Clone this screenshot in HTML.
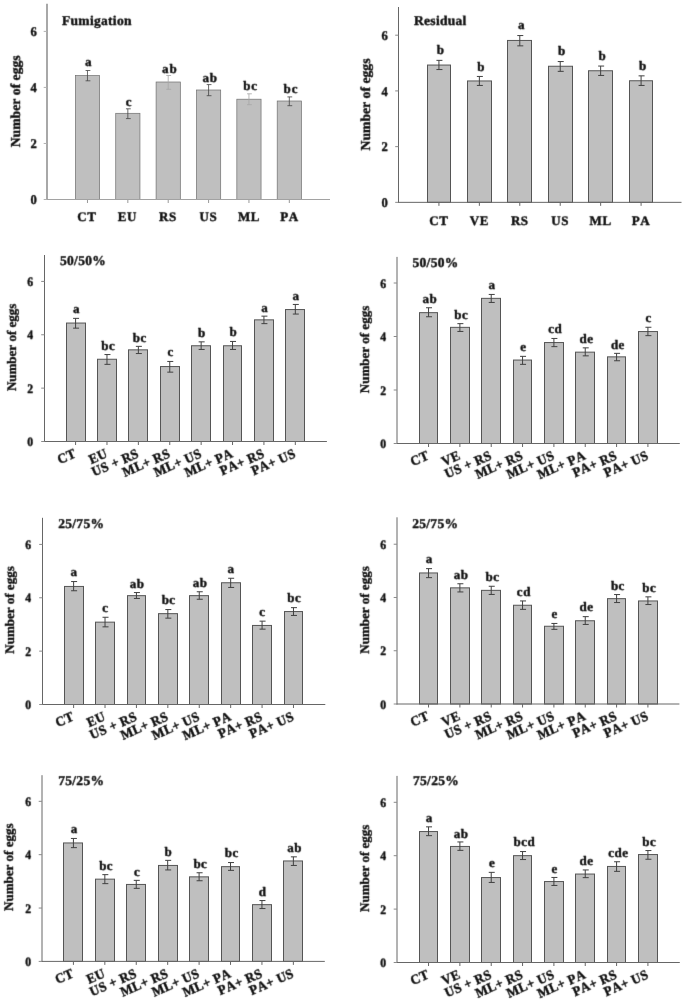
<!DOCTYPE html>
<html><head><meta charset="utf-8"><title>Number of eggs</title>
<style>
html,body{margin:0;padding:0;background:#fff;}
svg{display:block;}

text{font-family:"Liberation Serif",serif;font-weight:bold;fill:#0a0a0a;stroke:#0a0a0a;stroke-width:0.35px;font-kerning:none;text-rendering:geometricPrecision;stroke-linejoin:round;}
.t{font-size:12.9px;}
.ti{font-size:13.5px;letter-spacing:0.3px;}
.l{font-size:13px;letter-spacing:0.5px;}
.l1{letter-spacing:0.9px;}
.x{font-size:13px;letter-spacing:0.4px;}
.x6{font-size:13px;letter-spacing:0.6px;}
.yl{font-size:13px;}
</style></head><body>
<svg width="685" height="1007" viewBox="0 0 685 1007">
<defs><filter id="bl" x="0" y="0" width="685" height="1007" filterUnits="userSpaceOnUse"><feConvolveMatrix order="3" kernelMatrix="0 1 0 1 6 1 0 1 0" divisor="10" edgeMode="none"/></filter></defs>
<rect width="685" height="1007" fill="#fff"/>
<g>
<rect x="75.36" y="75.5" width="24.22" height="124" fill="#bfbfbf" stroke="#6e6e6e" stroke-width="0.7"/>
<path d="M87.47 70.5V80.8M85.57 70.5H90.37M85.57 80.8H90.37" stroke="#444" stroke-width="0.8" fill="none"/>
<path d="M87.47 199.5v3.5" stroke="#999" stroke-width="1"/>
<rect x="115.73" y="113.3" width="24.22" height="86.2" fill="#bfbfbf" stroke="#6e6e6e" stroke-width="0.7"/>
<path d="M127.84 108.8V118.6M125.94 108.8H130.74M125.94 118.6H130.74" stroke="#444" stroke-width="0.8" fill="none"/>
<path d="M127.84 199.5v3.5" stroke="#999" stroke-width="1"/>
<rect x="156.1" y="82" width="24.22" height="117.5" fill="#bfbfbf" stroke="#6e6e6e" stroke-width="0.7"/>
<path d="M168.21 75.5V89.3M166.31 75.5H171.11M166.31 89.3H171.11" stroke="#a6a6a6" stroke-width="0.8" fill="none"/>
<path d="M168.21 199.5v3.5" stroke="#999" stroke-width="1"/>
<rect x="196.47" y="90" width="24.22" height="109.5" fill="#bfbfbf" stroke="#6e6e6e" stroke-width="0.7"/>
<path d="M208.58 84.6V95.7M206.68 84.6H211.48M206.68 95.7H211.48" stroke="#444" stroke-width="0.8" fill="none"/>
<path d="M208.58 199.5v3.5" stroke="#999" stroke-width="1"/>
<rect x="236.84" y="99.2" width="24.22" height="100.3" fill="#bfbfbf" stroke="#6e6e6e" stroke-width="0.7"/>
<path d="M248.95 93.8V104.7M247.05 93.8H251.85M247.05 104.7H251.85" stroke="#a6a6a6" stroke-width="0.8" fill="none"/>
<path d="M248.95 199.5v3.5" stroke="#999" stroke-width="1"/>
<rect x="277.21" y="101" width="24.22" height="98.5" fill="#bfbfbf" stroke="#6e6e6e" stroke-width="0.7"/>
<path d="M289.32 96.9V105.7M287.42 96.9H292.22M287.42 105.7H292.22" stroke="#444" stroke-width="0.8" fill="none"/>
<path d="M289.32 199.5v3.5" stroke="#999" stroke-width="1"/>
<path d="M47 3.85V200" stroke="#a8a8a8" stroke-width="2" fill="none"/>
<path d="M46 199.5H330" stroke="#a2a2a2" stroke-width="1" fill="none"/>
<path d="M43.7 199.5H47" stroke="#b0b0b0" stroke-width="1"/>
<path d="M43.7 143.46H47" stroke="#b0b0b0" stroke-width="1"/>
<path d="M43.7 87.42H47" stroke="#b0b0b0" stroke-width="1"/>
<path d="M43.7 31.38H47" stroke="#b0b0b0" stroke-width="1"/>
</g>
<g>
<rect x="427.5" y="65.05" width="23" height="137.3" fill="#bfbfbf" stroke="#555" stroke-width="1"/>
<path d="M438.93 60.35V69.55M436.43 60.35H442.43M436.43 69.55H442.43" stroke="#404040" stroke-width="1" fill="none"/>
<path d="M438.93 202.35v3.5" stroke="#666" stroke-width="1"/>
<rect x="467.5" y="80.95" width="24" height="121.4" fill="#bfbfbf" stroke="#555" stroke-width="1"/>
<path d="M479.36 76.45V85.45M476.86 76.45H482.86M476.86 85.45H482.86" stroke="#404040" stroke-width="1" fill="none"/>
<path d="M479.36 202.35v3.5" stroke="#666" stroke-width="1"/>
<rect x="507.5" y="40.45" width="24" height="161.9" fill="#bfbfbf" stroke="#555" stroke-width="1"/>
<path d="M519.79 35.55V45.85M517.29 35.55H523.29M517.29 45.85H523.29" stroke="#404040" stroke-width="1" fill="none"/>
<path d="M519.79 202.35v3.5" stroke="#666" stroke-width="1"/>
<rect x="548.5" y="66.25" width="24" height="136.1" fill="#bfbfbf" stroke="#555" stroke-width="1"/>
<path d="M560.22 61.55V71.35M557.72 61.55H563.72M557.72 71.35H563.72" stroke="#404040" stroke-width="1" fill="none"/>
<path d="M560.22 202.35v3.5" stroke="#666" stroke-width="1"/>
<rect x="588.5" y="70.75" width="24" height="131.6" fill="#bfbfbf" stroke="#555" stroke-width="1"/>
<path d="M600.65 66.05V75.45M598.15 66.05H604.15M598.15 75.45H604.15" stroke="#404040" stroke-width="1" fill="none"/>
<path d="M600.65 202.35v3.5" stroke="#666" stroke-width="1"/>
<rect x="629.5" y="80.75" width="23" height="121.6" fill="#bfbfbf" stroke="#555" stroke-width="1"/>
<path d="M641.08 75.85V85.45M638.58 75.85H644.58M638.58 85.45H644.58" stroke="#404040" stroke-width="1" fill="none"/>
<path d="M641.08 202.35v3.5" stroke="#666" stroke-width="1"/>
<path d="M398.5 7V202.85" stroke="#666" stroke-width="1" fill="none"/>
<path d="M398 202.35H681.5" stroke="#666" stroke-width="1" fill="none"/>
<path d="M395.2 202.35H398.5" stroke="#8a8a8a" stroke-width="1"/>
<path d="M395.2 146.63H398.5" stroke="#8a8a8a" stroke-width="1"/>
<path d="M395.2 90.91H398.5" stroke="#8a8a8a" stroke-width="1"/>
<path d="M395.2 35.19H398.5" stroke="#8a8a8a" stroke-width="1"/>
</g>
<g>
<rect x="66.5" y="323.05" width="19" height="118.45" fill="#bfbfbf" stroke="#555" stroke-width="1"/>
<path d="M75.59 318.35V328.15M73.09 318.35H79.09M73.09 328.15H79.09" stroke="#404040" stroke-width="1" fill="none"/>
<path d="M75.59 441.5v3.5" stroke="#666" stroke-width="1"/>
<rect x="97.5" y="359.25" width="19" height="82.25" fill="#bfbfbf" stroke="#555" stroke-width="1"/>
<path d="M106.98 354.55V364.35M104.48 354.55H110.48M104.48 364.35H110.48" stroke="#404040" stroke-width="1" fill="none"/>
<path d="M106.98 441.5v3.5" stroke="#666" stroke-width="1"/>
<rect x="128.5" y="349.85" width="19" height="91.65" fill="#bfbfbf" stroke="#555" stroke-width="1"/>
<path d="M138.37 346.35V353.55M135.87 346.35H141.87M135.87 353.55H141.87" stroke="#404040" stroke-width="1" fill="none"/>
<path d="M138.37 441.5v3.5" stroke="#666" stroke-width="1"/>
<rect x="160.5" y="366.55" width="19" height="74.95" fill="#bfbfbf" stroke="#555" stroke-width="1"/>
<path d="M169.76 361.45V372.15M167.26 361.45H173.26M167.26 372.15H173.26" stroke="#404040" stroke-width="1" fill="none"/>
<path d="M169.76 441.5v3.5" stroke="#666" stroke-width="1"/>
<rect x="191.5" y="345.75" width="19" height="95.75" fill="#bfbfbf" stroke="#555" stroke-width="1"/>
<path d="M201.15 341.85V349.45M198.65 341.85H204.65M198.65 349.45H204.65" stroke="#404040" stroke-width="1" fill="none"/>
<path d="M201.15 441.5v3.5" stroke="#666" stroke-width="1"/>
<rect x="223.5" y="345.75" width="18" height="95.75" fill="#bfbfbf" stroke="#555" stroke-width="1"/>
<path d="M232.54 341.45V349.45M230.04 341.45H236.04M230.04 349.45H236.04" stroke="#404040" stroke-width="1" fill="none"/>
<path d="M232.54 441.5v3.5" stroke="#666" stroke-width="1"/>
<rect x="254.5" y="319.85" width="19" height="121.65" fill="#bfbfbf" stroke="#555" stroke-width="1"/>
<path d="M263.93 316.15V323.65M261.43 316.15H267.43M261.43 323.65H267.43" stroke="#404040" stroke-width="1" fill="none"/>
<path d="M263.93 441.5v3.5" stroke="#666" stroke-width="1"/>
<rect x="285.5" y="309.55" width="19" height="131.95" fill="#bfbfbf" stroke="#555" stroke-width="1"/>
<path d="M295.32 304.45V314.05M292.82 304.45H298.82M292.82 314.05H298.82" stroke="#404040" stroke-width="1" fill="none"/>
<path d="M295.32 441.5v3.5" stroke="#666" stroke-width="1"/>
<path d="M44.5 255V442" stroke="#666" stroke-width="1" fill="none"/>
<path d="M44 441.5H326.9" stroke="#666" stroke-width="1" fill="none"/>
<path d="M41.2 441.5H44.5" stroke="#8a8a8a" stroke-width="1"/>
<path d="M41.2 388.14H44.5" stroke="#8a8a8a" stroke-width="1"/>
<path d="M41.2 334.78H44.5" stroke="#8a8a8a" stroke-width="1"/>
<path d="M41.2 281.42H44.5" stroke="#8a8a8a" stroke-width="1"/>
</g>
<g>
<rect x="419.5" y="312.65" width="18" height="130.85" fill="#bfbfbf" stroke="#555" stroke-width="1"/>
<path d="M428.54 307.75V316.75M426.04 307.75H432.04M426.04 316.75H432.04" stroke="#404040" stroke-width="1" fill="none"/>
<path d="M428.54 443.5v3.5" stroke="#666" stroke-width="1"/>
<rect x="450.5" y="327.35" width="19" height="116.15" fill="#bfbfbf" stroke="#555" stroke-width="1"/>
<path d="M459.88 323.65V331.45M457.38 323.65H463.38M457.38 331.45H463.38" stroke="#404040" stroke-width="1" fill="none"/>
<path d="M459.88 443.5v3.5" stroke="#666" stroke-width="1"/>
<rect x="481.5" y="298.35" width="19" height="145.15" fill="#bfbfbf" stroke="#555" stroke-width="1"/>
<path d="M491.22 294.45V302.45M488.72 294.45H494.72M488.72 302.45H494.72" stroke="#404040" stroke-width="1" fill="none"/>
<path d="M491.22 443.5v3.5" stroke="#666" stroke-width="1"/>
<rect x="513.5" y="360.05" width="18" height="83.45" fill="#bfbfbf" stroke="#555" stroke-width="1"/>
<path d="M522.56 356.35V364.35M520.06 356.35H526.06M520.06 364.35H526.06" stroke="#404040" stroke-width="1" fill="none"/>
<path d="M522.56 443.5v3.5" stroke="#666" stroke-width="1"/>
<rect x="544.5" y="342.55" width="19" height="100.95" fill="#bfbfbf" stroke="#555" stroke-width="1"/>
<path d="M553.9 338.45V346.65M551.4 338.45H557.4M551.4 346.65H557.4" stroke="#404040" stroke-width="1" fill="none"/>
<path d="M553.9 443.5v3.5" stroke="#666" stroke-width="1"/>
<rect x="575.5" y="352.15" width="19" height="91.35" fill="#bfbfbf" stroke="#555" stroke-width="1"/>
<path d="M585.24 347.85V355.85M582.74 347.85H588.74M582.74 355.85H588.74" stroke="#404040" stroke-width="1" fill="none"/>
<path d="M585.24 443.5v3.5" stroke="#666" stroke-width="1"/>
<rect x="607.5" y="356.85" width="18" height="86.65" fill="#bfbfbf" stroke="#555" stroke-width="1"/>
<path d="M616.58 353.35V360.75M614.08 353.35H620.08M614.08 360.75H620.08" stroke="#404040" stroke-width="1" fill="none"/>
<path d="M616.58 443.5v3.5" stroke="#666" stroke-width="1"/>
<rect x="638.5" y="331.55" width="19" height="111.95" fill="#bfbfbf" stroke="#555" stroke-width="1"/>
<path d="M647.92 327.25V335.65M645.42 327.25H651.42M645.42 335.65H651.42" stroke="#404040" stroke-width="1" fill="none"/>
<path d="M647.92 443.5v3.5" stroke="#666" stroke-width="1"/>
<path d="M397 256.9V444" stroke="#666" stroke-width="1" fill="none"/>
<path d="M396.5 443.5H679.8" stroke="#666" stroke-width="1" fill="none"/>
<path d="M393.7 443.5H397" stroke="#8a8a8a" stroke-width="1"/>
<path d="M393.7 390H397" stroke="#8a8a8a" stroke-width="1"/>
<path d="M393.7 336.5H397" stroke="#8a8a8a" stroke-width="1"/>
<path d="M393.7 283H397" stroke="#8a8a8a" stroke-width="1"/>
</g>
<g>
<rect x="64.5" y="586.45" width="19" height="118.05" fill="#bfbfbf" stroke="#555" stroke-width="1"/>
<path d="M73.61 581.55V590.75M71.11 581.55H77.11M71.11 590.75H77.11" stroke="#404040" stroke-width="1" fill="none"/>
<path d="M73.61 704.5v3.5" stroke="#666" stroke-width="1"/>
<rect x="95.5" y="622.15" width="19" height="82.35" fill="#bfbfbf" stroke="#555" stroke-width="1"/>
<path d="M105.02 617.25V626.85M102.52 617.25H108.52M102.52 626.85H108.52" stroke="#404040" stroke-width="1" fill="none"/>
<path d="M105.02 704.5v3.5" stroke="#666" stroke-width="1"/>
<rect x="127.5" y="595.65" width="18" height="108.85" fill="#bfbfbf" stroke="#555" stroke-width="1"/>
<path d="M136.43 592.55V598.45M133.93 592.55H139.93M133.93 598.45H139.93" stroke="#404040" stroke-width="1" fill="none"/>
<path d="M136.43 704.5v3.5" stroke="#666" stroke-width="1"/>
<rect x="158.5" y="613.65" width="19" height="90.85" fill="#bfbfbf" stroke="#555" stroke-width="1"/>
<path d="M167.84 609.55V618.15M165.34 609.55H171.34M165.34 618.15H171.34" stroke="#404040" stroke-width="1" fill="none"/>
<path d="M167.84 704.5v3.5" stroke="#666" stroke-width="1"/>
<rect x="189.5" y="595.65" width="19" height="108.85" fill="#bfbfbf" stroke="#555" stroke-width="1"/>
<path d="M199.25 591.75V599.25M196.75 591.75H202.75M196.75 599.25H202.75" stroke="#404040" stroke-width="1" fill="none"/>
<path d="M199.25 704.5v3.5" stroke="#666" stroke-width="1"/>
<rect x="221.5" y="582.75" width="19" height="121.75" fill="#bfbfbf" stroke="#555" stroke-width="1"/>
<path d="M230.66 578.25V587.45M228.16 578.25H234.16M228.16 587.45H234.16" stroke="#404040" stroke-width="1" fill="none"/>
<path d="M230.66 704.5v3.5" stroke="#666" stroke-width="1"/>
<rect x="252.5" y="625.45" width="19" height="79.05" fill="#bfbfbf" stroke="#555" stroke-width="1"/>
<path d="M262.07 621.15V629.15M259.57 621.15H265.57M259.57 629.15H265.57" stroke="#404040" stroke-width="1" fill="none"/>
<path d="M262.07 704.5v3.5" stroke="#666" stroke-width="1"/>
<rect x="284.5" y="611.55" width="18" height="92.95" fill="#bfbfbf" stroke="#555" stroke-width="1"/>
<path d="M293.48 607.65V615.45M290.98 607.65H296.98M290.98 615.45H296.98" stroke="#404040" stroke-width="1" fill="none"/>
<path d="M293.48 704.5v3.5" stroke="#666" stroke-width="1"/>
<path d="M42.5 517.8V705" stroke="#666" stroke-width="1" fill="none"/>
<path d="M42 704.5H325.3" stroke="#666" stroke-width="1" fill="none"/>
<path d="M39.2 704.5H42.5" stroke="#8a8a8a" stroke-width="1"/>
<path d="M39.2 651.14H42.5" stroke="#8a8a8a" stroke-width="1"/>
<path d="M39.2 597.78H42.5" stroke="#8a8a8a" stroke-width="1"/>
<path d="M39.2 544.42H42.5" stroke="#8a8a8a" stroke-width="1"/>
</g>
<g>
<rect x="419.5" y="572.95" width="18" height="131.05" fill="#bfbfbf" stroke="#555" stroke-width="1"/>
<path d="M428.54 568.65V577.65M426.04 568.65H432.04M426.04 577.65H432.04" stroke="#404040" stroke-width="1" fill="none"/>
<path d="M428.54 704v3.5" stroke="#666" stroke-width="1"/>
<rect x="450.5" y="587.85" width="19" height="116.15" fill="#bfbfbf" stroke="#555" stroke-width="1"/>
<path d="M459.88 583.75V591.95M457.38 583.75H463.38M457.38 591.95H463.38" stroke="#404040" stroke-width="1" fill="none"/>
<path d="M459.88 704v3.5" stroke="#666" stroke-width="1"/>
<rect x="481.5" y="590.35" width="19" height="113.65" fill="#bfbfbf" stroke="#555" stroke-width="1"/>
<path d="M491.22 586.25V594.45M488.72 586.25H494.72M488.72 594.45H494.72" stroke="#404040" stroke-width="1" fill="none"/>
<path d="M491.22 704v3.5" stroke="#666" stroke-width="1"/>
<rect x="513.5" y="605.25" width="18" height="98.75" fill="#bfbfbf" stroke="#555" stroke-width="1"/>
<path d="M522.56 600.95V609.35M520.06 600.95H526.06M520.06 609.35H526.06" stroke="#404040" stroke-width="1" fill="none"/>
<path d="M522.56 704v3.5" stroke="#666" stroke-width="1"/>
<rect x="544.5" y="626.25" width="19" height="77.75" fill="#bfbfbf" stroke="#555" stroke-width="1"/>
<path d="M553.9 623.45V629.35M551.4 623.45H557.4M551.4 629.35H557.4" stroke="#404040" stroke-width="1" fill="none"/>
<path d="M553.9 704v3.5" stroke="#666" stroke-width="1"/>
<rect x="575.5" y="620.75" width="19" height="83.25" fill="#bfbfbf" stroke="#555" stroke-width="1"/>
<path d="M585.24 616.65V624.45M582.74 616.65H588.74M582.74 624.45H588.74" stroke="#404040" stroke-width="1" fill="none"/>
<path d="M585.24 704v3.5" stroke="#666" stroke-width="1"/>
<rect x="607.5" y="598.65" width="18" height="105.35" fill="#bfbfbf" stroke="#555" stroke-width="1"/>
<path d="M616.58 594.55V602.55M614.08 594.55H620.08M614.08 602.55H620.08" stroke="#404040" stroke-width="1" fill="none"/>
<path d="M616.58 704v3.5" stroke="#666" stroke-width="1"/>
<rect x="638.5" y="600.95" width="19" height="103.05" fill="#bfbfbf" stroke="#555" stroke-width="1"/>
<path d="M647.92 596.85V604.55M645.42 596.85H651.42M645.42 604.55H651.42" stroke="#404040" stroke-width="1" fill="none"/>
<path d="M647.92 704v3.5" stroke="#666" stroke-width="1"/>
<path d="M397 517.3V704.5" stroke="#666" stroke-width="1" fill="none"/>
<path d="M396.5 704H679.4" stroke="#666" stroke-width="1" fill="none"/>
<path d="M393.7 704H397" stroke="#8a8a8a" stroke-width="1"/>
<path d="M393.7 650.74H397" stroke="#8a8a8a" stroke-width="1"/>
<path d="M393.7 597.48H397" stroke="#8a8a8a" stroke-width="1"/>
<path d="M393.7 544.22H397" stroke="#8a8a8a" stroke-width="1"/>
</g>
<g>
<rect x="63.5" y="842.95" width="19" height="118.45" fill="#bfbfbf" stroke="#555" stroke-width="1"/>
<path d="M73.42 838.45V847.65M70.92 838.45H76.92M70.92 847.65H76.92" stroke="#404040" stroke-width="1" fill="none"/>
<path d="M73.42 961.4v3.5" stroke="#666" stroke-width="1"/>
<rect x="95.5" y="879.15" width="19" height="82.25" fill="#bfbfbf" stroke="#555" stroke-width="1"/>
<path d="M104.84 874.65V883.65M102.34 874.65H108.34M102.34 883.65H108.34" stroke="#404040" stroke-width="1" fill="none"/>
<path d="M104.84 961.4v3.5" stroke="#666" stroke-width="1"/>
<rect x="126.5" y="884.45" width="19" height="76.95" fill="#bfbfbf" stroke="#555" stroke-width="1"/>
<path d="M136.26 880.35V888.35M133.76 880.35H139.76M133.76 888.35H139.76" stroke="#404040" stroke-width="1" fill="none"/>
<path d="M136.26 961.4v3.5" stroke="#666" stroke-width="1"/>
<rect x="158.5" y="865.45" width="19" height="95.95" fill="#bfbfbf" stroke="#555" stroke-width="1"/>
<path d="M167.68 860.35V869.95M165.18 860.35H171.18M165.18 869.95H171.18" stroke="#404040" stroke-width="1" fill="none"/>
<path d="M167.68 961.4v3.5" stroke="#666" stroke-width="1"/>
<rect x="189.5" y="876.85" width="19" height="84.55" fill="#bfbfbf" stroke="#555" stroke-width="1"/>
<path d="M199.1 872.75V880.75M196.6 872.75H202.6M196.6 880.75H202.6" stroke="#404040" stroke-width="1" fill="none"/>
<path d="M199.1 961.4v3.5" stroke="#666" stroke-width="1"/>
<rect x="221.5" y="866.65" width="18" height="94.75" fill="#bfbfbf" stroke="#555" stroke-width="1"/>
<path d="M230.52 862.55V870.35M228.02 862.55H234.02M228.02 870.35H234.02" stroke="#404040" stroke-width="1" fill="none"/>
<path d="M230.52 961.4v3.5" stroke="#666" stroke-width="1"/>
<rect x="252.5" y="904.65" width="19" height="56.75" fill="#bfbfbf" stroke="#555" stroke-width="1"/>
<path d="M261.94 900.55V908.55M259.44 900.55H265.44M259.44 908.55H265.44" stroke="#404040" stroke-width="1" fill="none"/>
<path d="M261.94 961.4v3.5" stroke="#666" stroke-width="1"/>
<rect x="283.5" y="860.95" width="19" height="100.45" fill="#bfbfbf" stroke="#555" stroke-width="1"/>
<path d="M293.36 856.85V865.45M290.86 856.85H296.86M290.86 865.45H296.86" stroke="#404040" stroke-width="1" fill="none"/>
<path d="M293.36 961.4v3.5" stroke="#666" stroke-width="1"/>
<path d="M42 775.2V961.9" stroke="#666" stroke-width="1" fill="none"/>
<path d="M41.5 961.4H324.8" stroke="#666" stroke-width="1" fill="none"/>
<path d="M38.7 961.4H42" stroke="#8a8a8a" stroke-width="1"/>
<path d="M38.7 908.04H42" stroke="#8a8a8a" stroke-width="1"/>
<path d="M38.7 854.68H42" stroke="#8a8a8a" stroke-width="1"/>
<path d="M38.7 801.32H42" stroke="#8a8a8a" stroke-width="1"/>
</g>
<g>
<rect x="419.5" y="831.55" width="18" height="130.95" fill="#bfbfbf" stroke="#555" stroke-width="1"/>
<path d="M428.54 826.85V835.65M426.04 826.85H432.04M426.04 835.65H432.04" stroke="#404040" stroke-width="1" fill="none"/>
<path d="M428.54 962.5v3.5" stroke="#666" stroke-width="1"/>
<rect x="450.5" y="846.45" width="19" height="116.05" fill="#bfbfbf" stroke="#555" stroke-width="1"/>
<path d="M459.88 841.95V850.35M457.38 841.95H463.38M457.38 850.35H463.38" stroke="#404040" stroke-width="1" fill="none"/>
<path d="M459.88 962.5v3.5" stroke="#666" stroke-width="1"/>
<rect x="481.5" y="877.55" width="19" height="84.95" fill="#bfbfbf" stroke="#555" stroke-width="1"/>
<path d="M491.22 872.35V882.45M488.72 872.35H494.72M488.72 882.45H494.72" stroke="#404040" stroke-width="1" fill="none"/>
<path d="M491.22 962.5v3.5" stroke="#666" stroke-width="1"/>
<rect x="513.5" y="855.65" width="18" height="106.85" fill="#bfbfbf" stroke="#555" stroke-width="1"/>
<path d="M522.56 851.55V859.55M520.06 851.55H526.06M520.06 859.55H526.06" stroke="#404040" stroke-width="1" fill="none"/>
<path d="M522.56 962.5v3.5" stroke="#666" stroke-width="1"/>
<rect x="544.5" y="881.55" width="19" height="80.95" fill="#bfbfbf" stroke="#555" stroke-width="1"/>
<path d="M553.9 877.45V885.45M551.4 877.45H557.4M551.4 885.45H557.4" stroke="#404040" stroke-width="1" fill="none"/>
<path d="M553.9 962.5v3.5" stroke="#666" stroke-width="1"/>
<rect x="575.5" y="874.05" width="19" height="88.45" fill="#bfbfbf" stroke="#555" stroke-width="1"/>
<path d="M585.24 869.95V877.65M582.74 869.95H588.74M582.74 877.65H588.74" stroke="#404040" stroke-width="1" fill="none"/>
<path d="M585.24 962.5v3.5" stroke="#666" stroke-width="1"/>
<rect x="607.5" y="866.45" width="18" height="96.05" fill="#bfbfbf" stroke="#555" stroke-width="1"/>
<path d="M616.58 861.75V871.35M614.08 861.75H620.08M614.08 871.35H620.08" stroke="#404040" stroke-width="1" fill="none"/>
<path d="M616.58 962.5v3.5" stroke="#666" stroke-width="1"/>
<rect x="638.5" y="854.55" width="19" height="107.95" fill="#bfbfbf" stroke="#555" stroke-width="1"/>
<path d="M647.92 850.55V859.25M645.42 850.55H651.42M645.42 859.25H651.42" stroke="#404040" stroke-width="1" fill="none"/>
<path d="M647.92 962.5v3.5" stroke="#666" stroke-width="1"/>
<path d="M397 775.9V963" stroke="#666" stroke-width="1" fill="none"/>
<path d="M396.5 962.5H679.8" stroke="#666" stroke-width="1" fill="none"/>
<path d="M393.7 962.5H397" stroke="#8a8a8a" stroke-width="1"/>
<path d="M393.7 909.1H397" stroke="#8a8a8a" stroke-width="1"/>
<path d="M393.7 855.7H397" stroke="#8a8a8a" stroke-width="1"/>
<path d="M393.7 802.3H397" stroke="#8a8a8a" stroke-width="1"/>
</g>
<g id="tx" filter="url(#bl)">
<g>
<text transform="translate(88.67 66.1)" text-anchor="middle" class="l l1">a</text>
<text class="x6" text-anchor="middle" transform="translate(86.9 220.7) ">CT</text>
<text transform="translate(129.04 106.1)" text-anchor="middle" class="l l1">c</text>
<text class="x6" text-anchor="middle" transform="translate(127.42 220.7) ">EU</text>
<text transform="translate(169.86 73)" text-anchor="middle" class="l l1">ab</text>
<text class="x6" text-anchor="middle" transform="translate(167.94 220.7) ">RS</text>
<text transform="translate(210.23 82.2)" text-anchor="middle" class="l l1">ab</text>
<text class="x6" text-anchor="middle" transform="translate(208.46 220.7) ">US</text>
<text transform="translate(250.6 90)" text-anchor="middle" class="l l1">bc</text>
<text class="x6" text-anchor="middle" transform="translate(248.98 220.7) ">ML</text>
<text transform="translate(290.97 93.4)" text-anchor="middle" class="l l1">bc</text>
<text class="x6" text-anchor="middle" transform="translate(289.5 220.7) ">PA</text>
<text class="t" text-anchor="end" transform="translate(36.85 204.1) scale(0.98 1.04)">0</text>
<text class="t" text-anchor="end" transform="translate(36.85 148.06) scale(0.98 1.04)">2</text>
<text class="t" text-anchor="end" transform="translate(36.85 92.02) scale(0.98 1.04)">4</text>
<text class="t" text-anchor="end" transform="translate(36.85 35.98) scale(0.98 1.04)">6</text>
<text class="ti" x="62" y="25.1">Fumigation</text>
<text class="yl" style="font-size:13.7px" text-anchor="middle" transform="translate(19.6 101.3) rotate(-90)">Number of eggs</text>
</g>
<g>
<text transform="translate(440.63 54)" text-anchor="middle" class="l">b</text>
<text class="x6" text-anchor="middle" transform="translate(438.93 224.75) ">CT</text>
<text transform="translate(481.06 70.6)" text-anchor="middle" class="l">b</text>
<text class="x6" text-anchor="middle" transform="translate(479.36 224.75) ">VE</text>
<text transform="translate(521.49 29.3)" text-anchor="middle" class="l">a</text>
<text class="x6" text-anchor="middle" transform="translate(519.79 224.75) ">RS</text>
<text transform="translate(561.92 55.3)" text-anchor="middle" class="l">b</text>
<text class="x6" text-anchor="middle" transform="translate(560.22 224.75) ">US</text>
<text transform="translate(602.35 60)" text-anchor="middle" class="l">b</text>
<text class="x6" text-anchor="middle" transform="translate(600.65 224.75) ">ML</text>
<text transform="translate(642.78 69.6)" text-anchor="middle" class="l">b</text>
<text class="x6" text-anchor="middle" transform="translate(641.08 224.75) ">PA</text>
<text class="t" text-anchor="end" transform="translate(387.85 206.95) scale(0.98 1.04)">0</text>
<text class="t" text-anchor="end" transform="translate(387.85 151.23) scale(0.98 1.04)">2</text>
<text class="t" text-anchor="end" transform="translate(387.85 95.51) scale(0.98 1.04)">4</text>
<text class="t" text-anchor="end" transform="translate(387.85 39.79) scale(0.98 1.04)">6</text>
<text class="ti" x="414" y="25.1">Residual</text>
<text class="yl" style="font-size:13.7px" text-anchor="middle" transform="translate(370.3 104.5) rotate(-90)">Number of eggs</text>
</g>
<g>
<text x="76.39" y="313.1" text-anchor="middle" class="l">a</text>
<text class="x" text-anchor="end" transform="translate(77.09 456.7) rotate(-23.5) scale(1 1.05)">CT</text>
<text x="108.28" y="350.3" text-anchor="middle" class="l">bc</text>
<text class="x" text-anchor="end" transform="translate(108.48 456.7) rotate(-23.5) scale(1 1.05)">EU</text>
<text x="139.67" y="341.5" text-anchor="middle" class="l">bc</text>
<text class="x" text-anchor="end" transform="translate(139.87 456.7) rotate(-23.5) scale(1 1.05)">US + RS</text>
<text x="170.56" y="356.4" text-anchor="middle" class="l">c</text>
<text class="x" text-anchor="end" transform="translate(171.26 456.7) rotate(-23.5) scale(1 1.05)">ML+ RS</text>
<text x="201.95" y="337.2" text-anchor="middle" class="l">b</text>
<text class="x" text-anchor="end" transform="translate(202.65 456.7) rotate(-23.5) scale(1 1.05)">ML+ US</text>
<text x="233.34" y="336.2" text-anchor="middle" class="l">b</text>
<text class="x" text-anchor="end" transform="translate(234.04 456.7) rotate(-23.5) scale(1 1.05)">ML+ PA</text>
<text x="264.73" y="312.1" text-anchor="middle" class="l">a</text>
<text class="x" text-anchor="end" transform="translate(265.43 456.7) rotate(-23.5) scale(1 1.05)">PA+ RS</text>
<text x="296.12" y="299.8" text-anchor="middle" class="l">a</text>
<text class="x" text-anchor="end" transform="translate(296.82 456.7) rotate(-23.5) scale(1 1.05)">PA+ US</text>
<text class="t" text-anchor="end" transform="translate(33.2 446) scale(0.91 1)">0</text>
<text class="t" text-anchor="end" transform="translate(33.2 392.64) scale(0.91 1)">2</text>
<text class="t" text-anchor="end" transform="translate(33.2 339.28) scale(0.91 1)">4</text>
<text class="t" text-anchor="end" transform="translate(33.2 285.92) scale(0.91 1)">6</text>
<text class="ti" x="60" y="265.3">50/50%</text>
<text class="yl" style="font-size:13px" text-anchor="middle" transform="translate(16.1 347.4) rotate(-90)">Number of eggs</text>
</g>
<g>
<text x="429.84" y="302.7" text-anchor="middle" class="l">ab</text>
<text class="x" text-anchor="end" transform="translate(430.04 458.7) rotate(-23.5) scale(1 1.05)">CT</text>
<text x="461.18" y="318.6" text-anchor="middle" class="l">bc</text>
<text class="x" text-anchor="end" transform="translate(461.38 458.7) rotate(-23.5) scale(1 1.05)">VE</text>
<text x="492.02" y="289.2" text-anchor="middle" class="l">a</text>
<text class="x" text-anchor="end" transform="translate(492.72 458.7) rotate(-23.5) scale(1 1.05)">US + RS</text>
<text x="523.36" y="351.3" text-anchor="middle" class="l">e</text>
<text class="x" text-anchor="end" transform="translate(524.06 458.7) rotate(-23.5) scale(1 1.05)">ML+ RS</text>
<text x="555.2" y="333" text-anchor="middle" class="l">cd</text>
<text class="x" text-anchor="end" transform="translate(555.4 458.7) rotate(-23.5) scale(1 1.05)">ML+ US</text>
<text x="586.54" y="342.6" text-anchor="middle" class="l">de</text>
<text class="x" text-anchor="end" transform="translate(586.74 458.7) rotate(-23.5) scale(1 1.05)">ML+ PA</text>
<text x="617.88" y="348.7" text-anchor="middle" class="l">de</text>
<text class="x" text-anchor="end" transform="translate(618.08 458.7) rotate(-23.5) scale(1 1.05)">PA+ RS</text>
<text x="648.72" y="322.4" text-anchor="middle" class="l">c</text>
<text class="x" text-anchor="end" transform="translate(649.42 458.7) rotate(-23.5) scale(1 1.05)">PA+ US</text>
<text class="t" text-anchor="end" transform="translate(386.2 448) scale(0.91 1)">0</text>
<text class="t" text-anchor="end" transform="translate(386.2 394.5) scale(0.91 1)">2</text>
<text class="t" text-anchor="end" transform="translate(386.2 341) scale(0.91 1)">4</text>
<text class="t" text-anchor="end" transform="translate(386.2 287.5) scale(0.91 1)">6</text>
<text class="ti" x="412.5" y="267.4">50/50%</text>
<text class="yl" style="font-size:13px" text-anchor="middle" transform="translate(369.2 349.5) rotate(-90)">Number of eggs</text>
</g>
<g>
<text x="73.91" y="576.3" text-anchor="middle" class="l">a</text>
<text class="x" text-anchor="end" transform="translate(75.11 719.7) rotate(-23.5) scale(1 1.05)">CT</text>
<text x="105.32" y="612" text-anchor="middle" class="l">c</text>
<text class="x" text-anchor="end" transform="translate(106.52 719.7) rotate(-23.5) scale(1 1.05)">EU</text>
<text x="137.23" y="587.9" text-anchor="middle" class="l">ab</text>
<text class="x" text-anchor="end" transform="translate(137.93 719.7) rotate(-23.5) scale(1 1.05)">US + RS</text>
<text x="168.64" y="604.3" text-anchor="middle" class="l">bc</text>
<text class="x" text-anchor="end" transform="translate(169.34 719.7) rotate(-23.5) scale(1 1.05)">ML+ RS</text>
<text x="200.05" y="587.3" text-anchor="middle" class="l">ab</text>
<text class="x" text-anchor="end" transform="translate(200.75 719.7) rotate(-23.5) scale(1 1.05)">ML+ US</text>
<text x="230.96" y="572.8" text-anchor="middle" class="l">a</text>
<text class="x" text-anchor="end" transform="translate(232.16 719.7) rotate(-23.5) scale(1 1.05)">ML+ PA</text>
<text x="262.37" y="616.3" text-anchor="middle" class="l">c</text>
<text class="x" text-anchor="end" transform="translate(263.57 719.7) rotate(-23.5) scale(1 1.05)">PA+ RS</text>
<text x="294.28" y="602" text-anchor="middle" class="l">bc</text>
<text class="x" text-anchor="end" transform="translate(294.98 719.7) rotate(-23.5) scale(1 1.05)">PA+ US</text>
<text class="t" text-anchor="end" transform="translate(31.2 709) scale(0.91 1)">0</text>
<text class="t" text-anchor="end" transform="translate(31.2 655.64) scale(0.91 1)">2</text>
<text class="t" text-anchor="end" transform="translate(31.2 602.28) scale(0.91 1)">4</text>
<text class="t" text-anchor="end" transform="translate(31.2 548.92) scale(0.91 1)">6</text>
<text class="ti" x="58.2" y="528">25/75%</text>
<text class="yl" style="font-size:13px" text-anchor="middle" transform="translate(13.7 610) rotate(-90)">Number of eggs</text>
</g>
<g>
<text x="429.34" y="563.4" text-anchor="middle" class="l">a</text>
<text class="x" text-anchor="end" transform="translate(430.04 719.2) rotate(-23.5) scale(1 1.05)">CT</text>
<text x="461.18" y="579.1" text-anchor="middle" class="l">ab</text>
<text class="x" text-anchor="end" transform="translate(461.38 719.2) rotate(-23.5) scale(1 1.05)">VE</text>
<text x="492.52" y="580.6" text-anchor="middle" class="l">bc</text>
<text class="x" text-anchor="end" transform="translate(492.72 719.2) rotate(-23.5) scale(1 1.05)">US + RS</text>
<text x="523.86" y="596.1" text-anchor="middle" class="l">cd</text>
<text class="x" text-anchor="end" transform="translate(524.06 719.2) rotate(-23.5) scale(1 1.05)">ML+ RS</text>
<text x="554.7" y="617.9" text-anchor="middle" class="l">e</text>
<text class="x" text-anchor="end" transform="translate(555.4 719.2) rotate(-23.5) scale(1 1.05)">ML+ US</text>
<text x="586.54" y="611.4" text-anchor="middle" class="l">de</text>
<text class="x" text-anchor="end" transform="translate(586.74 719.2) rotate(-23.5) scale(1 1.05)">ML+ PA</text>
<text x="617.88" y="589.9" text-anchor="middle" class="l">bc</text>
<text class="x" text-anchor="end" transform="translate(618.08 719.2) rotate(-23.5) scale(1 1.05)">PA+ RS</text>
<text x="649.22" y="592" text-anchor="middle" class="l">bc</text>
<text class="x" text-anchor="end" transform="translate(649.42 719.2) rotate(-23.5) scale(1 1.05)">PA+ US</text>
<text class="t" text-anchor="end" transform="translate(386.2 708.5) scale(0.91 1)">0</text>
<text class="t" text-anchor="end" transform="translate(386.2 655.24) scale(0.91 1)">2</text>
<text class="t" text-anchor="end" transform="translate(386.2 601.98) scale(0.91 1)">4</text>
<text class="t" text-anchor="end" transform="translate(386.2 548.72) scale(0.91 1)">6</text>
<text class="ti" x="412.2" y="528">25/75%</text>
<text class="yl" style="font-size:13px" text-anchor="middle" transform="translate(369.2 610) rotate(-90)">Number of eggs</text>
</g>
<g>
<text x="74.22" y="832.8" text-anchor="middle" class="l">a</text>
<text class="x" text-anchor="end" transform="translate(74.92 976.6) rotate(-23.5) scale(1 1.05)">CT</text>
<text x="106.14" y="869.8" text-anchor="middle" class="l">bc</text>
<text class="x" text-anchor="end" transform="translate(106.34 976.6) rotate(-23.5) scale(1 1.05)">EU</text>
<text x="137.06" y="875.7" text-anchor="middle" class="l">c</text>
<text class="x" text-anchor="end" transform="translate(137.76 976.6) rotate(-23.5) scale(1 1.05)">US + RS</text>
<text x="168.48" y="855.5" text-anchor="middle" class="l">b</text>
<text class="x" text-anchor="end" transform="translate(169.18 976.6) rotate(-23.5) scale(1 1.05)">ML+ RS</text>
<text x="200.4" y="868.3" text-anchor="middle" class="l">bc</text>
<text class="x" text-anchor="end" transform="translate(200.6 976.6) rotate(-23.5) scale(1 1.05)">ML+ US</text>
<text x="231.82" y="856.9" text-anchor="middle" class="l">bc</text>
<text class="x" text-anchor="end" transform="translate(232.02 976.6) rotate(-23.5) scale(1 1.05)">ML+ PA</text>
<text x="262.74" y="895.7" text-anchor="middle" class="l">d</text>
<text class="x" text-anchor="end" transform="translate(263.44 976.6) rotate(-23.5) scale(1 1.05)">PA+ RS</text>
<text x="294.66" y="852" text-anchor="middle" class="l">ab</text>
<text class="x" text-anchor="end" transform="translate(294.86 976.6) rotate(-23.5) scale(1 1.05)">PA+ US</text>
<text class="t" text-anchor="end" transform="translate(31 965.9) scale(0.91 1)">0</text>
<text class="t" text-anchor="end" transform="translate(31 912.54) scale(0.91 1)">2</text>
<text class="t" text-anchor="end" transform="translate(31 859.18) scale(0.91 1)">4</text>
<text class="t" text-anchor="end" transform="translate(31 805.82) scale(0.91 1)">6</text>
<text class="ti" x="58.2" y="785.2">75/25%</text>
<text class="yl" style="font-size:13px" text-anchor="middle" transform="translate(13.4 867.2) rotate(-90)">Number of eggs</text>
</g>
<g>
<text x="429.34" y="822" text-anchor="middle" class="l">a</text>
<text class="x" text-anchor="end" transform="translate(430.04 977.7) rotate(-23.5) scale(1 1.05)">CT</text>
<text x="461.18" y="837.7" text-anchor="middle" class="l">ab</text>
<text class="x" text-anchor="end" transform="translate(461.38 977.7) rotate(-23.5) scale(1 1.05)">VE</text>
<text x="492.02" y="866.7" text-anchor="middle" class="l">e</text>
<text class="x" text-anchor="end" transform="translate(492.72 977.7) rotate(-23.5) scale(1 1.05)">US + RS</text>
<text x="524.36" y="846.1" text-anchor="middle" class="l">bcd</text>
<text class="x" text-anchor="end" transform="translate(524.06 977.7) rotate(-23.5) scale(1 1.05)">ML+ RS</text>
<text x="554.7" y="872.6" text-anchor="middle" class="l">e</text>
<text class="x" text-anchor="end" transform="translate(555.4 977.7) rotate(-23.5) scale(1 1.05)">ML+ US</text>
<text x="586.54" y="865.1" text-anchor="middle" class="l">de</text>
<text class="x" text-anchor="end" transform="translate(586.74 977.7) rotate(-23.5) scale(1 1.05)">ML+ PA</text>
<text x="618.38" y="856.7" text-anchor="middle" class="l">cde</text>
<text class="x" text-anchor="end" transform="translate(618.08 977.7) rotate(-23.5) scale(1 1.05)">PA+ RS</text>
<text x="649.22" y="845.7" text-anchor="middle" class="l">bc</text>
<text class="x" text-anchor="end" transform="translate(649.42 977.7) rotate(-23.5) scale(1 1.05)">PA+ US</text>
<text class="t" text-anchor="end" transform="translate(386.2 967) scale(0.91 1)">0</text>
<text class="t" text-anchor="end" transform="translate(386.2 913.6) scale(0.91 1)">2</text>
<text class="t" text-anchor="end" transform="translate(386.2 860.2) scale(0.91 1)">4</text>
<text class="t" text-anchor="end" transform="translate(386.2 806.8) scale(0.91 1)">6</text>
<text class="ti" x="413" y="784.7">75/25%</text>
<text class="yl" style="font-size:13px" text-anchor="middle" transform="translate(369.2 868.3) rotate(-90)">Number of eggs</text>
</g>
</g>
</svg>
</body></html>
